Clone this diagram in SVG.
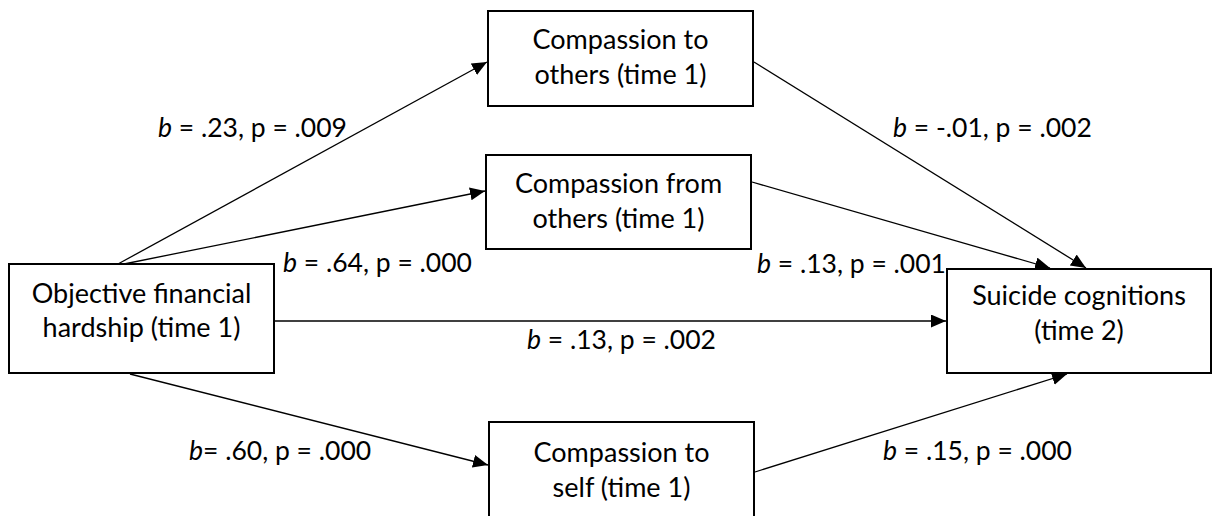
<svg xmlns="http://www.w3.org/2000/svg" width="1217" height="516" viewBox="0 0 1217 516">
<style>
.box{fill:#fff;stroke:#000;stroke-width:2}
.t{font-family:Lato,"Liberation Sans",sans-serif;font-size:27px;fill:#000;text-anchor:middle}
.l{font-family:Lato,"Liberation Sans",sans-serif;font-size:26.5px;fill:#000}
.i{font-style:italic}
.c{stroke:#000;stroke-width:1.3;fill:none;marker-end:url(#ah)}
</style>
<defs>
<marker id="ah" markerUnits="userSpaceOnUse" markerWidth="16" markerHeight="14" refX="15" refY="6.5" orient="auto">
<path d="M0,0 L15,6.5 L0,13 z" fill="#000"/>
</marker>
</defs>
<g id="connectors">
<line class="c" x1="118" y1="264" x2="487" y2="62"/>
<line class="c" x1="124" y1="264" x2="485" y2="191"/>
<line class="c" x1="274" y1="321" x2="946" y2="321"/>
<line class="c" x1="130" y1="374" x2="488" y2="465"/>
<line class="c" x1="754" y1="62" x2="1086" y2="268"/>
<line class="c" x1="752" y1="182" x2="1050" y2="268"/>
<line class="c" x1="755" y1="472" x2="1067" y2="374"/>
</g>
<g id="objective">
<rect class="box" x="9" y="264" width="265" height="109"/>
<text class="t" x="141.5" y="303">Objective financial</text>
<text class="t" x="141.5" y="337">hardship (time 1)</text>
</g>
<g id="comp-to-others">
<rect class="box" x="488" y="11" width="265" height="95"/>
<text class="t" x="620.5" y="49">Compassion to</text>
<text class="t" x="620.5" y="84">others (time 1)</text>
</g>
<g id="comp-from-others">
<rect class="box" x="486" y="155" width="265" height="94"/>
<text class="t" x="618.5" y="193">Compassion from</text>
<text class="t" x="618.5" y="228">others (time 1)</text>
</g>
<g id="comp-to-self">
<rect class="box" x="489" y="422" width="265" height="95"/>
<text class="t" x="621.5" y="462">Compassion to</text>
<text class="t" x="621.5" y="497">self (time 1)</text>
</g>
<g id="suicide">
<rect class="box" x="947" y="269" width="264" height="104"/>
<text class="t" x="1079" y="305">Suicide cognitions</text>
<text class="t" x="1079" y="340">(time 2)</text>
</g>
<g id="labels">
<text class="l" x="158" y="137"><tspan class="i">b</tspan> = .23, p = .009</text>
<text class="l" x="283" y="272"><tspan class="i">b</tspan> = .64, p = .000</text>
<text class="l" x="527" y="349"><tspan class="i">b</tspan> = .13, p = .002</text>
<text class="l" x="189" y="460"><tspan class="i">b</tspan>= .60, p = .000</text>
<text class="l" x="893" y="137"><tspan class="i">b</tspan> = -.01, p = .002</text>
<text class="l" x="757" y="273"><tspan class="i">b</tspan> = .13, p = .001</text>
<text class="l" x="883" y="460"><tspan class="i">b</tspan> = .15, p = .000</text>
</g>
</svg>
